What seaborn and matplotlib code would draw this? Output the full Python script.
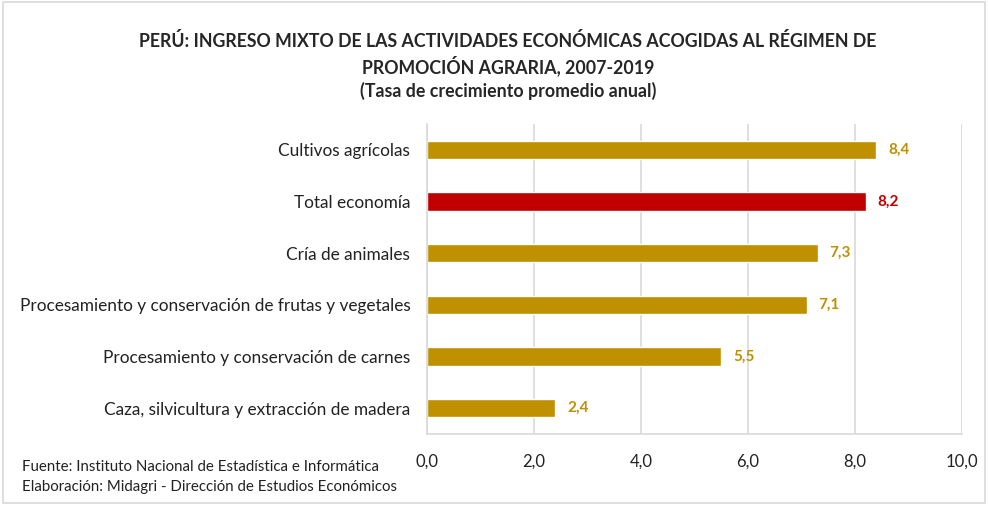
import numpy as np
import pandas as pd
import matplotlib
matplotlib.use("Agg")
import matplotlib.pyplot as plt
import seaborn as sns
from matplotlib.patches import Rectangle
from matplotlib.ticker import FixedLocator, FuncFormatter

# Datos
categorias = [
    "Cultivos agrícolas",
    "Total economía",
    "Cría de animales",
    "Procesamiento y conservación de frutas y vegetales",
    "Procesamiento y conservación de carnes",
    "Caza, silvicultura y extracción de madera",
]
tasas = [8.4, 8.2, 7.3, 7.1, 5.5, 2.4]
colores = ["#BF9000", "#C00000", "#BF9000", "#BF9000", "#BF9000", "#BF9000"]

titulo = ("PERÚ: INGRESO MIXTO DE LAS ACTIVIDADES ECONÓMICAS ACOGIDAS AL RÉGIMEN DE\n"
          "PROMOCIÓN AGRARIA, 2007-2019\n(Tasa de crecimiento promedio anual)")
fuente = ("Fuente: Instituto Nacional de Estadística e Informática\n"
          "Elaboración: Midagri - Dirección de Estudios Económicos")

sns.set_style("white")
plt.rcParams["font.family"] = ["Lato", "DejaVu Sans"]

df = pd.DataFrame({"categoria": categorias, "tasa": tasas})

fig = plt.figure(figsize=(9.88, 5.05), dpi=100)
ax = fig.add_axes([427 / 988, 1 - 434 / 505, 535 / 988, 310 / 505])

sns.barplot(data=df, x="tasa", y="categoria", hue="categoria",
            palette=colores, width=0.35, legend=False, ax=ax,
            saturation=1)

ax.set_xlim(0, 10)
ax.set_ylim(5.5, -0.5)
ax.set_xticks(np.arange(0, 10.1, 2))
ax.xaxis.set_major_formatter(FuncFormatter(lambda v, p: f"{v:.1f}".replace(".", ",")))
ax.grid(axis="x", color="#D9D9D9", linewidth=1.2)
ax.set_axisbelow(True)
ax.set_xlabel("")
ax.set_ylabel("")

for s in ["top", "right"]:
    ax.spines[s].set_visible(False)
for s in ["left", "bottom"]:
    ax.spines[s].set_color("#D9D9D9")
    ax.spines[s].set_linewidth(1.2)

ax.tick_params(axis="x", length=5, color="#D9D9D9", pad=9, labelsize=12, labelcolor="#222222")
ax.tick_params(axis="y", length=0, pad=12, labelsize=12.4, labelcolor="#222222")
ax.yaxis.set_minor_locator(FixedLocator(np.arange(0.5, 5, 1)))
ax.tick_params(axis="y", which="minor", length=6, color="#D9D9D9")

for i, (v, c) in enumerate(zip(tasas, colores)):
    ax.text(v + 0.22, i, f"{v:.1f}".replace(".", ","), va="center", ha="left",
            color=c, fontsize=11, fontweight="bold")

fig.text(508 / 988, 1 - 66 / 505, titulo, ha="center", va="center", fontsize=12.8,
         fontweight="bold", linespacing=1.32)
fig.text(22 / 988, 1 - 477 / 505, fuente, ha="left", va="center", fontsize=10.8,
         linespacing=1.55, color="#222222")

fig.patches.append(Rectangle((0.003, 0.003), 0.994, 0.994, transform=fig.transFigure,
                             fill=False, edgecolor="#D9D9D9", linewidth=1.2))

fig.savefig("out.png", dpi=100)
